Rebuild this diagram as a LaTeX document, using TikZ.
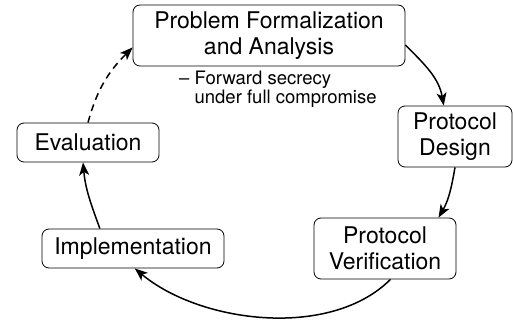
\documentclass[tikz,border=0pt]{standalone}
\usepackage{fontspec}
\setmainfont{TeX Gyre Heros}
\usetikzlibrary{arrows.meta}

\begin{document}
\begin{tikzpicture}[x=1pt,y=1pt,
    stage/.style={draw,thick,rounded corners=7pt,align=center,inner sep=0pt,
      font=\fontsize{23}{26}\selectfont},
    flow/.style={line width=1.5pt,-{Stealth[length=13pt,width=10pt,inset=3.5pt]}}]
    \useasboundingbox (0,0) rectangle (513,326);
    \node[stage,minimum width=272,minimum height=61] (prob) at (269,290.5) {Problem Formalization\\and Analysis};
    \node[stage,minimum width=114,minimum height=61] (design) at (455,189.5) {Protocol\\Design};
    \node[stage,minimum width=142,minimum height=61] (verif) at (385,77.5) {Protocol\\Verification};
    \node[stage,minimum width=182,minimum height=39] (impl) at (133,77.5) {Implementation};
    \node[stage,minimum width=142,minimum height=39] (eval) at (88,183.5) {Evaluation};
    \node[anchor=north west,inner sep=0pt,align=left,
      font=\fontsize{18.5}{17}\selectfont] (note) at (179,255) {-- Forward secrecy\\\phantom{-- }under full compromise};
    \draw[flow] (prob.-4) to[out=-45,in=100] (design.110);
    \draw[flow] (design.-90) to[out=-100,in=60] (verif.30);
    \draw[flow] (verif.-80) to[out=-135,in=-40,looseness=0.85] (impl.-85);
    \draw[flow] (impl.149) to[out=110,in=-85] (eval.-104);
    \draw[flow,dashed,dash pattern=on 7pt off 5pt] (eval.90) to[out=75,in=-135] (prob.185);
  \end{tikzpicture}
\end{document}
